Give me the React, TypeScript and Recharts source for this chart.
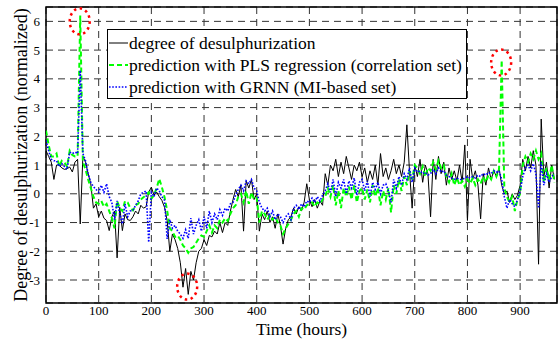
import { LineChart, Line, XAxis, YAxis, CartesianGrid, Legend, ReferenceArea, ReferenceDot } from 'recharts'

// samples every 5 hours, 0 .. 965 h
const STEP_HOURS = 5

const desulphurization = [
  1.5, 1.3, 1.1, 0.5, 1.0, 1.0, 0.9, 0.85, 0.87, 0.93,
  0.76, 1.1, 1.2, -1.05, 1.3, 1.1, 0.7, 0.35, -0.5, -0.35,
  -0.8, -0.6, -0.85, -0.93, -1.28, -0.8, -0.6, -2.23, -0.47, -1.28,
  -0.7, -0.9, -0.93, -0.8, -0.6, -0.7, -0.4, -0.5, -0.45, 0.06,
  0.23, -0.05, 0.06, -0.1, -0.23, -0.47, -0.93, -2.0, -1.4, -1.6,
  -1.9, -2.4, -3.25, -2.6, -3.5, -2.7, -3.0, -2.4, -2.0, -1.9,
  -1.6, -1.8, -1.45, -1.5, -1.3, -1.4, -1.0, -1.35, -1.0, -1.1,
  -0.6, -0.2, 0.15, -0.1, 0.3, -1.3, 0.45, 0.2, 0.5, -0.2,
  0.0, -1.3, -0.7, -0.9, -0.6, -1.0, -0.8, -1.2, -0.7, -1.1,
  -1.75, -1.2, -0.9, -0.8, -0.5, -0.7, -0.45, -0.6, -0.3, 0.35,
  -0.2, -0.45, -0.2, -0.5, -0.25, -0.4, 0.7, 0.3, 1.0, 0.8,
  1.2, 0.6, 1.1, 0.7, 1.3, 0.9, 0.5, 1.0, 0.8, 1.1,
  0.6, 0.9, 0.4, 0.8, 0.5, 1.0, 0.3, 1.4, 0.6, 0.9,
  0.5, 0.8, 1.2, 0.7, 1.0, 0.6, 1.1, 2.4, 0.8, -0.5,
  1.0, 0.6, 1.2, 0.4, 1.0, 0.7, -0.8, 1.2, 0.5, 1.3,
  0.7, 1.1, 0.3, 0.9, 0.5, 0.8, 0.45, 1.0, 0.4, 1.7,
  -0.93, 1.2, 0.5, 0.8, 0.3, -0.87, 0.7, 0.3, 0.9, 0.5,
  0.8, 0.6, 0.9, 0.3, 0.0, 0.1, -0.3, 0.0, -0.2, -0.05,
  0.3, 1.2, 0.8, 1.3, 0.9, 1.5, 1.0, -2.45, 2.6, 0.6,
  1.1, 0.2, 1.0, 0.5,
]

const plsPrediction = [
  2.2, 1.7, 1.3, 1.3, 1.4, 0.95, 1.15, 1.1, 0.95, 1.5,
  1.35, 1.3, 1.3, 6.2, 1.1, 0.85, 0.5, 0.2, -0.1, -0.3,
  -0.35, -0.25, -0.45, -0.35, -0.6, -0.85, -1.2, -0.25, -0.5, -0.6,
  -0.25, -0.3, -0.5, -0.58, -0.4, -0.35, -0.2, -0.12, -0.05, 0.05,
  -0.17, -0.05, 0.2, 0.52, 0.23, -0.12, -0.58, -1.2, -1.3, -1.5,
  -1.45, -1.6, -1.8, -1.9, -2.05, -1.9, -1.85, -1.7, -1.55, -1.45,
  -1.5, -1.3, -1.1, -1.35, -1.1, -1.2, -0.9, -1.0, -0.85, -0.95,
  -0.7, -0.5, -0.4, -0.1, 0.0, -0.3, 0.1, -0.35, 0.05, -0.2,
  -0.15, -1.0, -0.6, -0.7, -0.9, -0.75, -0.9, -0.8, -1.0, -1.1,
  -1.4, -1.2, -1.05, -0.9, -0.7, -0.6, -0.8, -0.5, -0.55, -0.4,
  -0.35, -0.3, -0.45, -0.3, -0.35, -0.2, -0.1, 0.2, -0.1, 0.3,
  -0.4, 0.1, -0.5, 0.2, -0.1, 0.25, -0.2, 0.3, -0.3, 0.1,
  0.2, -0.2, 0.15, -0.3, 0.3, -0.1, 0.2, -0.4, 0.1, -0.2,
  0.2, -0.65, 0.3, 0.0, 0.5, 0.1, 0.6, 0.3, 0.8, 0.5,
  1.0, 0.9, 0.7, 0.95, 0.6, 0.9, 0.8, 1.1, 0.85, 1.15,
  0.9, 1.0, 0.6, 0.4, 0.7, 0.3, 0.55, 0.3, 0.45, 0.25,
  0.5, 0.35, 0.55, 0.3, 0.5, 0.35, 0.6, 0.4, 0.65, 0.5,
  0.8, 0.6, 0.85, 4.65, 0.2, -0.1, -0.3, -0.1, -0.6, -0.2,
  0.0, 1.0, 1.3, 1.1, 1.4, 1.2, 1.5, 1.2, 1.4, 0.4,
  0.9, 0.5, 1.0, 0.4,
]

const grnnPrediction = [
  1.86, 1.5, 1.2, 1.15, 1.15, 0.95, 1.05, 0.95, 0.85, 1.45,
  1.4, 1.45, 1.4, 4.3, 1.4, 1.15, 0.7, 0.4, 0.25, 0.15,
  0.05, 0.3, 0.05, 0.35, -0.1, -0.3, -0.9, -0.25, -0.7, -1.05,
  -0.35, -0.8, -0.6, -0.58, -0.4, -0.25, 0.0, 0.05, 0.1, -1.69,
  0.05, -0.1, 0.2, 0.1, -0.1, -0.23, -1.57, -0.9, -1.2, -1.1,
  -1.3, -1.4, -1.55, -1.25, -1.55, -0.85, -1.4, -1.1, -0.9, -1.3,
  -0.8, -1.2, -0.6, -1.0, -0.7, -0.9, -0.55, -0.75, -0.5, -0.6,
  -0.35, -0.3, -0.05, 0.15, 0.3, 0.1, 0.45, 0.35, 0.5, 0.2,
  0.1, -0.3, -0.5, -0.6, -0.5, -0.8, -0.6, -0.9, -0.7, -0.8,
  -1.0, -0.8, -0.7, -0.9, -0.5, -0.4, -0.55, -0.35, -0.45, -0.25,
  -0.3, -0.15, -0.3, -0.1, -0.25, -0.05, 0.1, 0.35, 0.05, 0.5,
  -0.1, 0.4, 0.2, 0.5, 0.0, 0.45, 0.2, 0.55, -0.05, 0.4,
  0.5, 0.1, 0.45, -0.1, 0.4, 0.15, 0.4, 0.0, 0.3, 0.35,
  0.1, -0.3, 0.5, 0.2, 0.6, 0.3, 0.7, 0.5, 0.9, 0.4,
  0.9, 0.75, 0.8, 0.7, 0.75, 0.65, 0.7, 0.85, 0.7, 0.9,
  0.75, 0.8, 0.65, 0.6, 0.55, 0.5, 0.55, 0.5, 0.5, 0.55,
  0.6, 0.55, 0.6, 0.55, 0.65, 0.6, 0.7, 0.65, 0.75, 0.7,
  0.8, 0.75, 0.8, 0.5, -0.1, -0.5, -0.2, -0.35, -0.45, -0.2,
  0.1, 0.6, 0.9, 1.0, 0.8, 1.05, 0.7, -0.5, 1.1, 0.3,
  0.7, 0.4, 0.6, 0.7,
]

const xTicks = [0, 100, 200, 300, 400, 500, 600, 700, 800, 900]
const yTicks = [-3, -2, -1, 0, 1, 2, 3, 4, 5, 6]

// circled outliers: [hour, value]
const outlierHours = [64, 864, 268]
const outlierValues = [6.0, 4.57, -3.23]

const series = [
  { key: 'desulph', name: 'degree of desulphurization', color: '#000000', width: 1, dash: undefined },
  { key: 'pls', name: 'prediction with PLS regression (correlation set)', color: '#00ff00', width: 2, dash: '5 3' },
  { key: 'grnn', name: 'prediction with GRNN (MI-based set)', color: '#0000ff', width: 1.6, dash: '1.6 1.6' },
]

const rows = desulphurization.map((v, i) => ({
  hour: i * STEP_HOURS,
  desulph: v,
  pls: plsPrediction[i],
  grnn: grnnPrediction[i],
}))

const FONT = '"Liberation Serif", "Times New Roman", serif'

const renderLegend = () => (
  <div style={{ border: '1px solid #000', background: '#fff', width: 358, padding: '1.5px 0 0 0', fontFamily: FONT, fontSize: 17.5, lineHeight: '22px' }}>
    {series.map(s => (
      <div key={s.key} style={{ display: 'flex', alignItems: 'center', height: 22 }}>
        <svg width={21} height={10}>
          <line x1={1} y1={5} x2={20} y2={5} stroke={s.color} strokeWidth={s.width} strokeDasharray={s.dash} />
        </svg>
        <span style={{ color: '#000' }}>{s.name}</span>
      </div>
    ))}
  </div>
)

const ring = (props: any) => (
  <ellipse cx={props.cx} cy={props.cy} rx={10} ry={13} fill="none" stroke="#ff0000" strokeWidth={2.5} strokeDasharray="2.5 3.5" />
)

const App = () => {
  const tickStyle = { fill: '#000', fontSize: 13, fontFamily: FONT }
  return (
    <div style={{ position: 'absolute', left: 0, top: 0, width: 559, height: 340, background: '#fff', fontFamily: FONT }}>
      <LineChart width={559} height={340} data={rows} margin={{ top: 7, right: 2, bottom: 0, left: 0 }} style={{ fontFamily: FONT }}>
        <CartesianGrid stroke="#333" strokeDasharray="7 5" />
        <XAxis type="number" dataKey="hour" domain={[0, 970]} ticks={xTicks} allowDataOverflow
          height={37} tickLine={false} axisLine={false} tickSize={1} tickMargin={2} tick={tickStyle}
          label={{ value: 'Time (hours)', position: 'insideBottom', offset: 5.5, fill: '#000', fontSize: 17.5, fontFamily: FONT }} />
        <YAxis type="number" domain={[-3.8, 6.5]} ticks={yTicks} allowDataOverflow
          width={46} tickLine={false} axisLine={false} tickSize={4} tickMargin={2} tick={tickStyle}
          label={{ value: 'Degree of desulphurization (normalized)', angle: -90, position: 'insideLeft', offset: 20.6,
            fill: '#000', fontSize: 18, fontFamily: FONT, style: { textAnchor: 'middle' } }} />
        {series.map(s => (
          <Line key={s.key} type="linear" dataKey={s.key} name={s.name} stroke={s.color} strokeWidth={s.width}
            strokeDasharray={s.dash} dot={false} activeDot={false} isAnimationActive={false} />
        ))}
        <ReferenceArea x1={0} x2={970} y1={-3.8} y2={6.5} fill="none" stroke="#000" strokeWidth={1.5} ifOverflow="visible" />
        {outlierHours.map((h, i) => (
          <ReferenceDot key={h} x={h} y={outlierValues[i]} shape={ring} ifOverflow="visible" />
        ))}
        <Legend content={renderLegend} layout="vertical" align="center" verticalAlign="middle" wrapperStyle={{ left: 107, top: 29, width: 'auto' }} />
      </LineChart>
    </div>
  )
}

export default App
